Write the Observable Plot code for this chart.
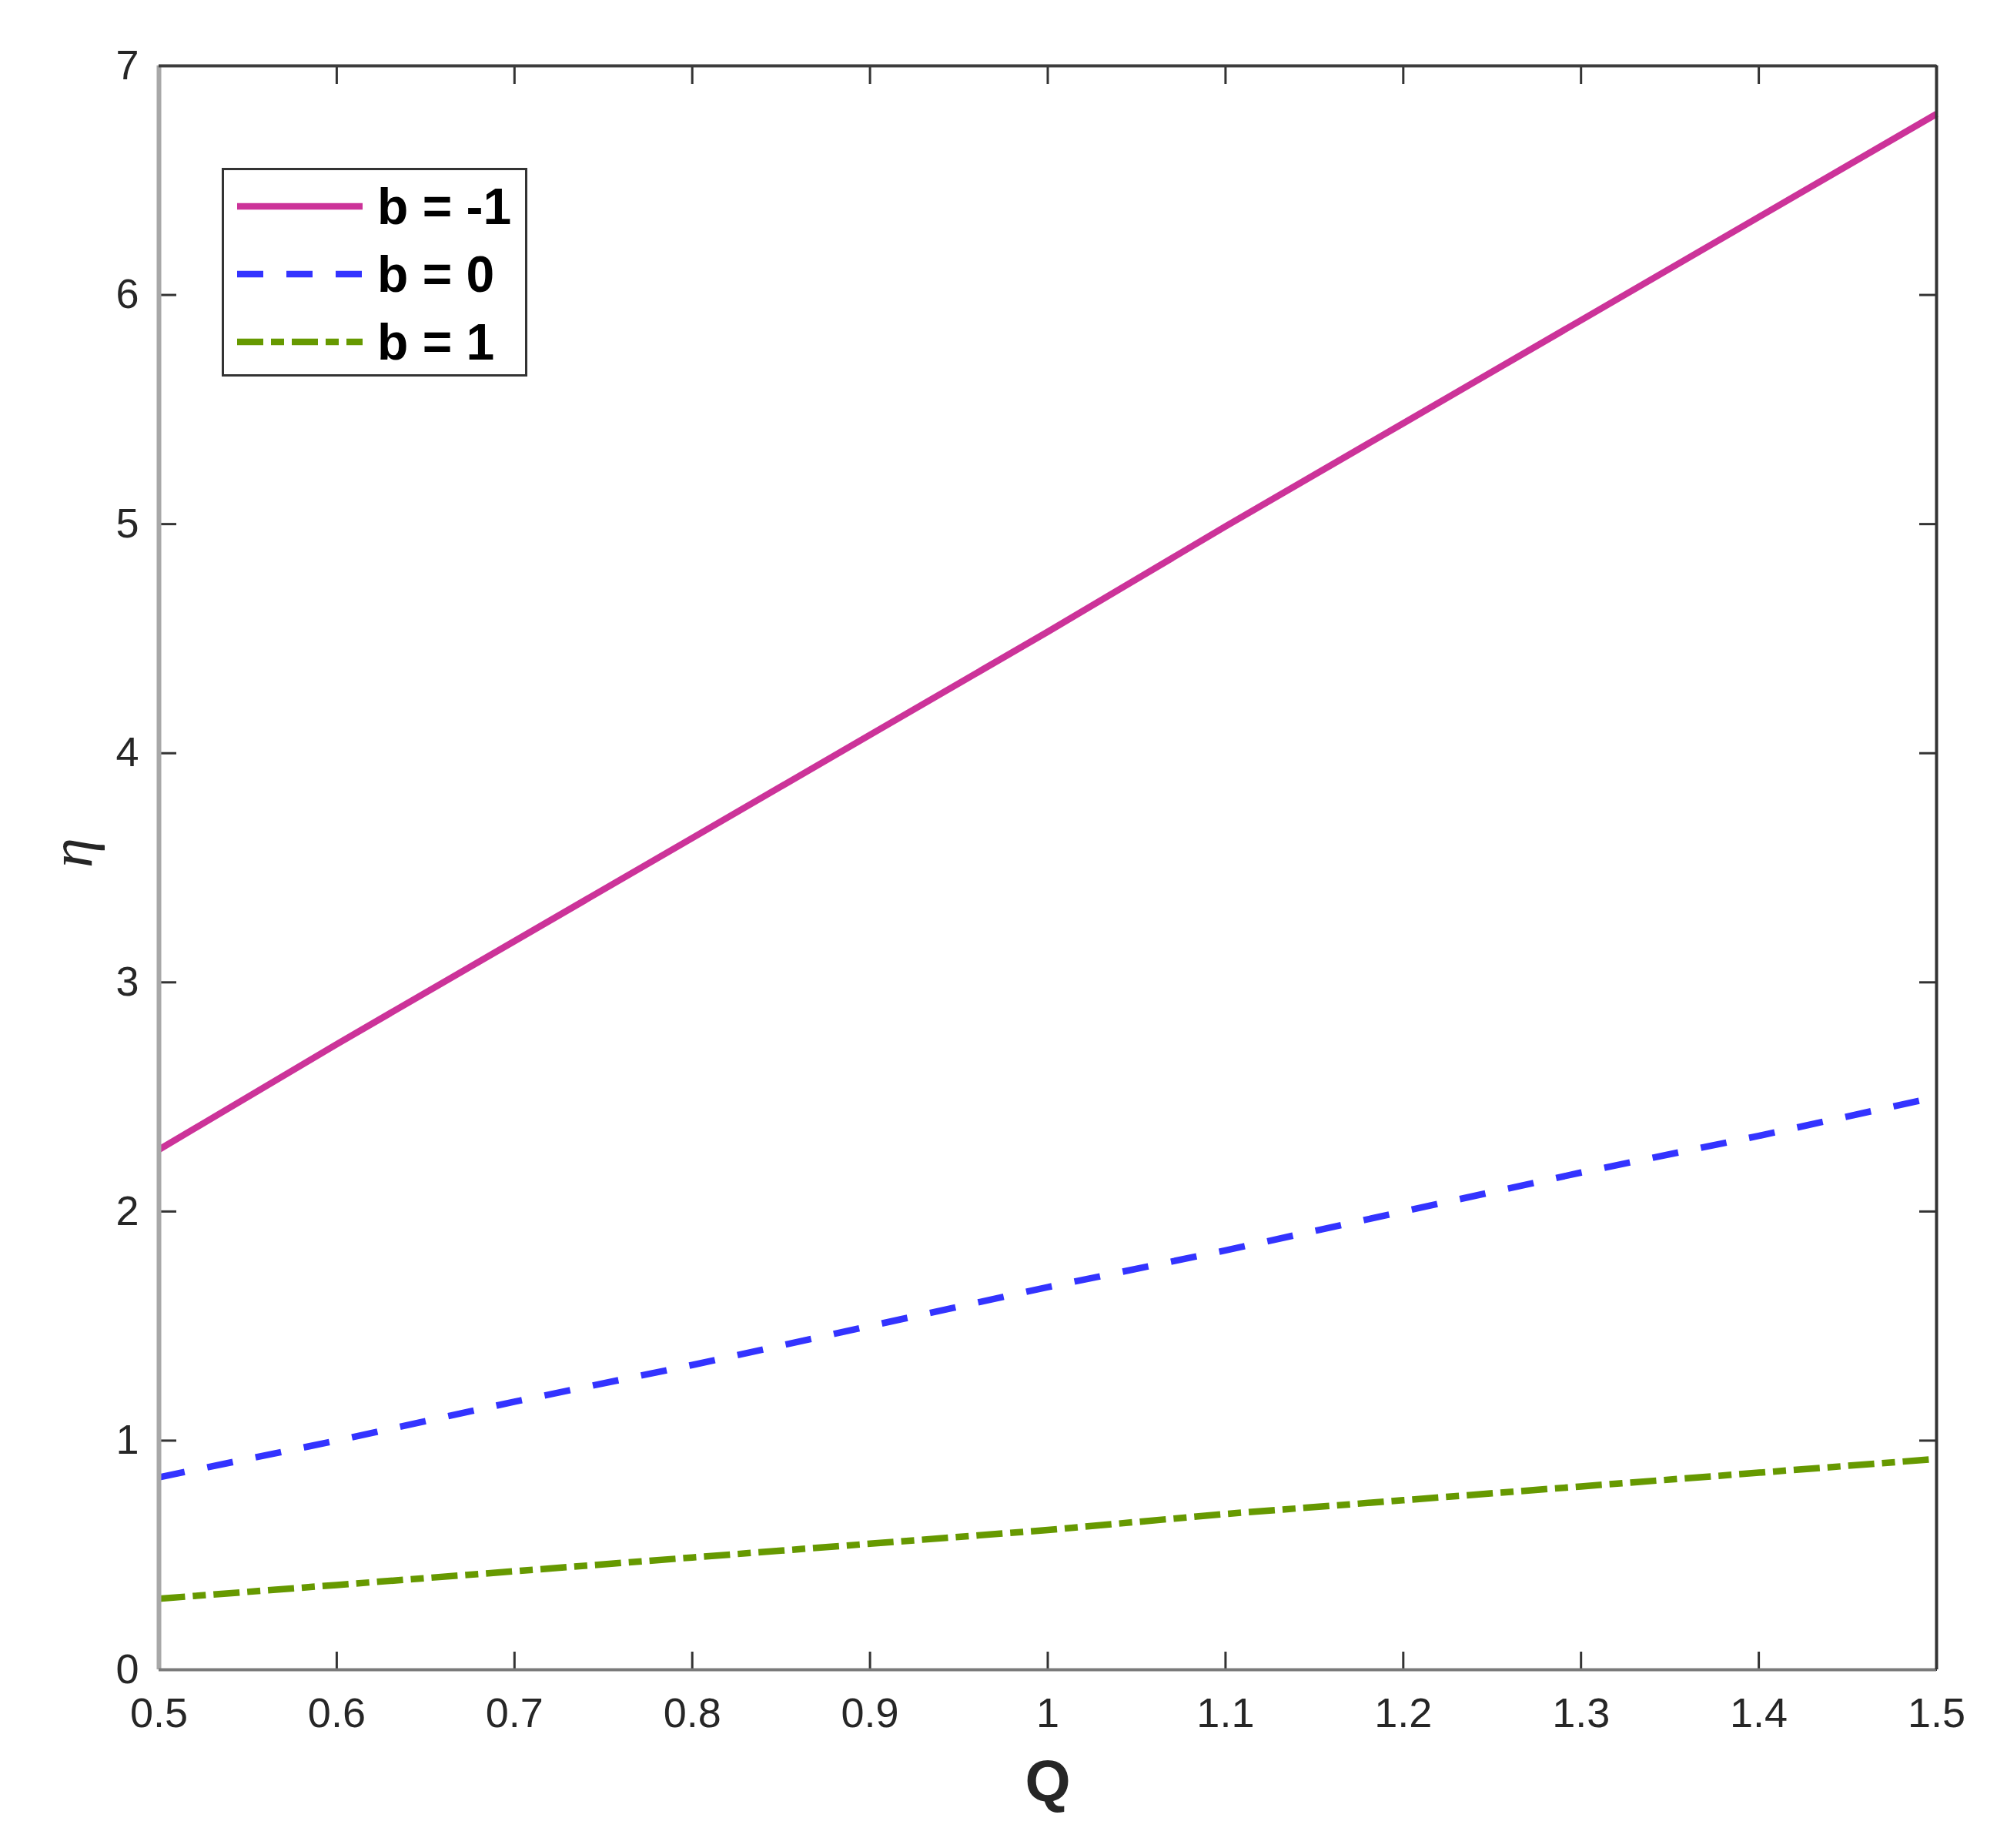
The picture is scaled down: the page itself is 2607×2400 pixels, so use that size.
<!DOCTYPE html>
<html>
<head>
<meta charset="utf-8">
<script src="https://cdn.jsdelivr.net/npm/d3@7"></script>
<script src="https://cdn.jsdelivr.net/npm/@observablehq/plot@0.6"></script>
<style>
  html, body { margin: 0; padding: 0; background: #ffffff; }
  #wrap { position: relative; width: 2607px; height: 2400px; background: #ffffff; }
</style>
</head>
<body>
<div id="wrap"></div>
<script>
// ---- data ----
const Q = [0.5, 0.6, 0.7, 0.8, 0.9, 1.0, 1.1, 1.2, 1.3, 1.4, 1.5];
const etaBm1 = [2.27, 2.73, 3.18, 3.63, 4.08, 4.53, 4.99, 5.44, 5.89, 6.34, 6.79];
const etaB0  = [0.84, 1.00, 1.17, 1.33, 1.50, 1.67, 1.83, 2.00, 2.17, 2.33, 2.50];
const etaB1  = [0.31, 0.37, 0.43, 0.49, 0.55, 0.61, 0.68, 0.74, 0.80, 0.86, 0.92];
const seriesNames = ["b = -1", "b = 0", "b = 1"];
const seriesColors = ["#CC3399", "#3333FF", "#669900"];
const seriesDash = [null, "34,30", "34,10,17,10"];
const xTicks = [0.5, 0.6, 0.7, 0.8, 0.9, 1, 1.1, 1.2, 1.3, 1.4, 1.5];
const yTicks = [0, 1, 2, 3, 4, 5, 6, 7];
const xLabel = "Q";
const yLabel = "η";

const seriesValues = [etaBm1, etaB0, etaB1];
const rows = seriesValues.map((vals, i) => Q.map((q, j) => ({ Q: q, eta: vals[j], s: seriesNames[i] })));

const tickColor = "#333333";
const fontFamily = "'Liberation Sans', Arial, Helvetica, sans-serif";

const chart = Plot.plot({
  width: 2607,
  height: 2400,
  marginLeft: 206,
  marginRight: 92,
  marginTop: 85,
  marginBottom: 232,
  x: { domain: [0.5, 1.5], label: null },
  y: { domain: [0, 7], label: null },
  style: { fontFamily, background: "#ffffff", color: "#262626" },
  marks: [
    ...rows.map((data, i) => Plot.line(data, {
      x: "Q", y: "eta",
      stroke: seriesColors[i],
      strokeWidth: 8.5,
      strokeDasharray: seriesDash[i],
      strokeLinecap: "butt"
    })),
    Plot.axisX(xTicks, { anchor: "bottom", tickSize: 0, tickPadding: 36, fontSize: 54, tickFormat: d => String(d), label: null }),
    Plot.axisY(yTicks, { anchor: "left", tickSize: 0, tickPadding: 26, fontSize: 54, tickFormat: d => String(d), label: null }),
    Plot.axisX(xTicks, { anchor: "bottom", tickSize: -23, strokeWidth: 3, stroke: tickColor, tickFormat: () => "", label: null }),
    Plot.axisX(xTicks, { anchor: "top", tickSize: -23, strokeWidth: 3, stroke: tickColor, tickFormat: () => "", label: null }),
    Plot.axisY(yTicks, { anchor: "left", tickSize: -23, strokeWidth: 3, stroke: tickColor, tickFormat: () => "", label: null }),
    Plot.axisY(yTicks, { anchor: "right", tickSize: -23, strokeWidth: 3, stroke: tickColor, tickFormat: () => "", label: null }),
    Plot.ruleX([0.5], { stroke: "#a8a8a8", strokeWidth: 6 }),
    Plot.ruleY([0], { stroke: "#7a7a7a", strokeWidth: 4 }),
    Plot.ruleX([1.5], { stroke: "#333333", strokeWidth: 4 }),
    Plot.ruleY([7], { stroke: "#3c3c3c", strokeWidth: 4 }),
    Plot.text([xLabel], { frameAnchor: "bottom", text: d => d, dy: 170, fontSize: 76, fontWeight: "bold", fill: "#262626" }),
    Plot.text([yLabel], { frameAnchor: "left", text: d => d, dx: -112, rotate: -90, fontSize: 78, fontStyle: "italic", fontFamily: "'Liberation Serif', 'DejaVu Serif', serif", fill: "#262626" })
  ]
});

const wrap = document.getElementById("wrap");
wrap.appendChild(chart);

// legend (inside the axes, upper-left), built from the same series arrays
const lw = 397, lh = 271;
const legend = d3.create("svg")
  .attr("width", lw)
  .attr("height", lh)
  .style("position", "absolute")
  .style("left", "288px")
  .style("top", "218px");
legend.append("rect")
  .attr("x", 1.5).attr("y", 1.5)
  .attr("width", lw - 3).attr("height", lh - 3)
  .attr("fill", "#ffffff").attr("stroke", "#333333").attr("stroke-width", 3);
seriesNames.forEach((name, i) => {
  const cy = 50 + i * 88;
  legend.append("line")
    .attr("x1", 20).attr("x2", 183).attr("y1", cy).attr("y2", cy)
    .attr("stroke", seriesColors[i]).attr("stroke-width", 8.5)
    .attr("stroke-dasharray", seriesDash[i]);
  legend.append("text")
    .attr("x", 202).attr("y", cy)
    .attr("dominant-baseline", "central")
    .attr("font-family", fontFamily)
    .attr("font-weight", "bold")
    .attr("font-size", 66)
    .attr("fill", "#000000")
    .text(name);
});
wrap.appendChild(legend.node());
</script>
</body>
</html>
